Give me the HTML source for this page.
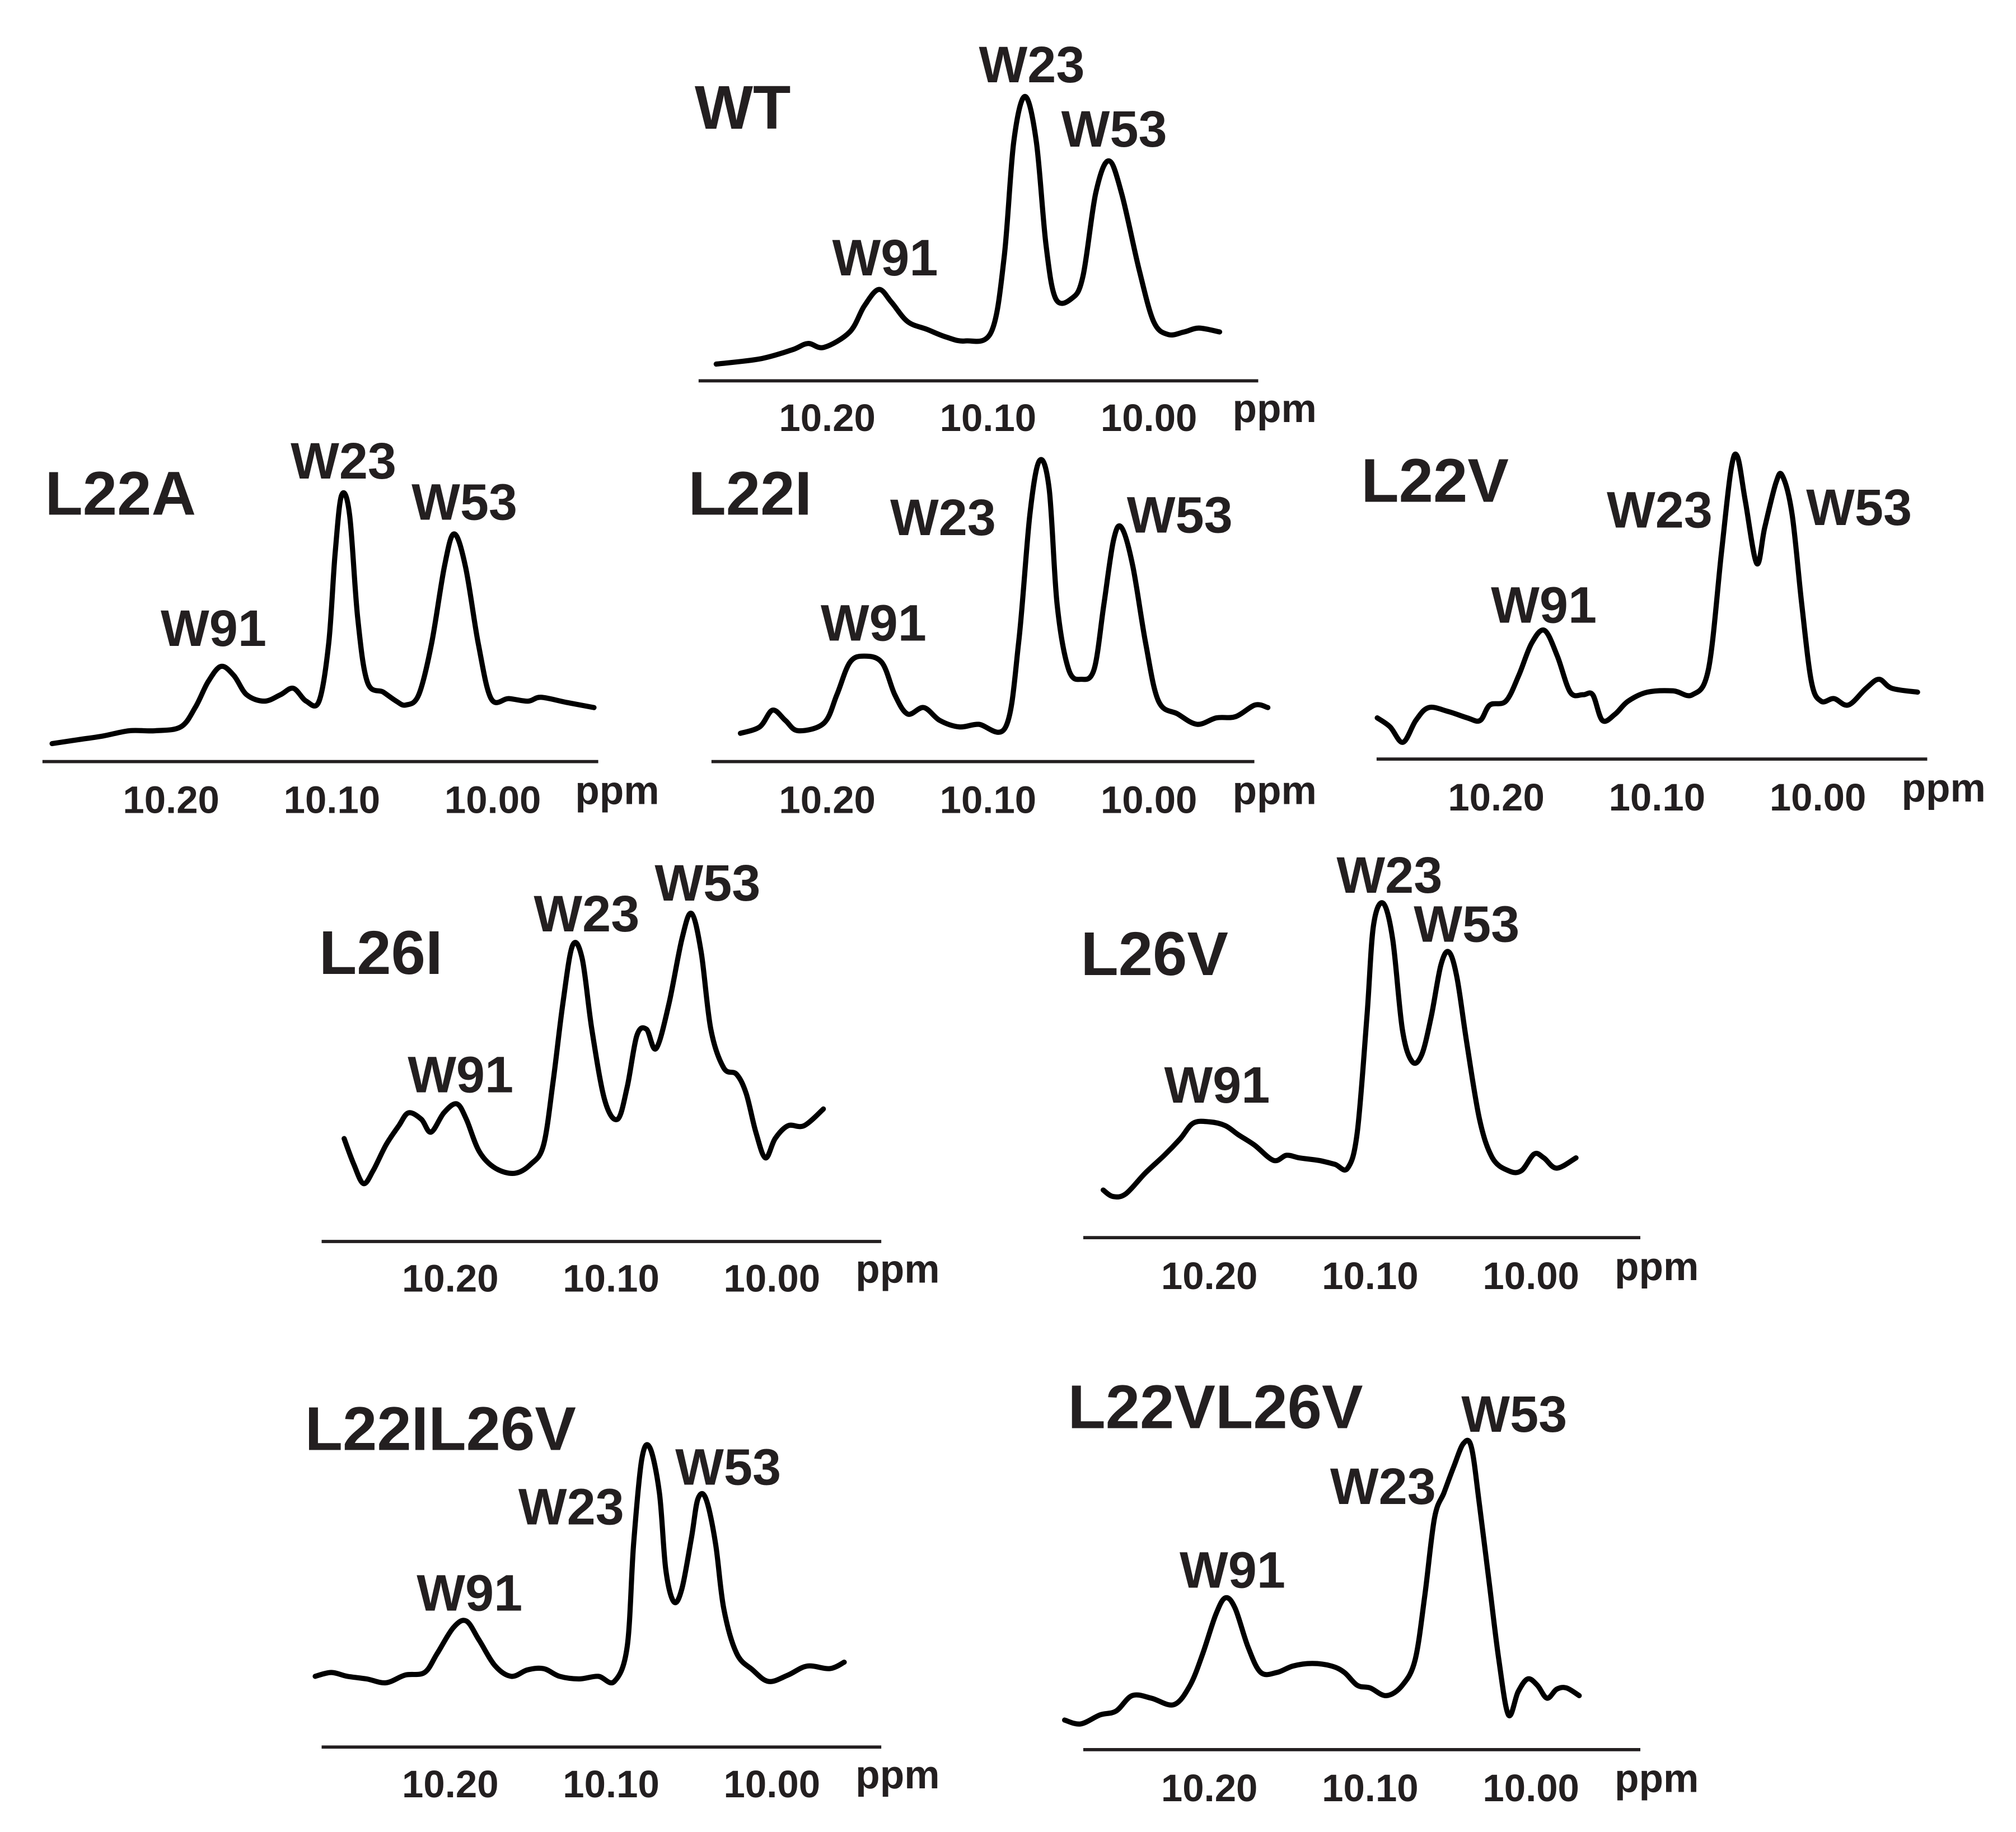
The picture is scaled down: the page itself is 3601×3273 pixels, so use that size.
<!DOCTYPE html>
<html><head><meta charset="utf-8">
<style>
html,body{margin:0;padding:0;background:#fff;}
svg{display:block;}
text{font-family:"Liberation Sans",Arial,sans-serif;font-weight:bold;fill:#231f20;}
</style></head>
<body>
<svg id="fig" width="3601" height="3273" viewBox="0 0 1567 1424" preserveAspectRatio="none" xmlns="http://www.w3.org/2000/svg"></svg>
<script>
// ---- data: ppm positions and intensities for each spectrum ----
const wtPpm=[10.269,10.242,10.222,10.212,10.202,10.186,10.177,10.168,10.160,10.150,10.138,10.126,10.114,10.098,10.090,10.084,10.077,10.070,10.064,10.058,10.048,10.041,10.033,10.025,10.017,10.006,9.997,9.988,9.978,9.969,9.956];
const wtInt=[13,17,24,29,26,38,58,71,61,46,40,34,31,38,96,186,221,186,106,64,64,81,146,171,146,86,46,36,38,41,38];
const l22aPpm=[10.274,10.258,10.242,10.226,10.210,10.194,10.185,10.177,10.169,10.161,10.153,10.142,10.132,10.124,10.116,10.108,10.102,10.098,10.094,10.089,10.084,10.078,10.068,10.060,10.054,10.046,10.038,10.030,10.024,10.017,10.009,10.001,9.990,9.978,9.970,9.954,9.937];
const l22aInt=[14,17,20,24,24,27,42,62,74,67,52,47,52,57,47,47,92,162,207,192,112,62,54,47,44,52,92,152,177,152,92,49,49,47,50,46,42];
const l22iPpm=[10.254,10.242,10.234,10.226,10.218,10.202,10.194,10.186,10.177,10.166,10.158,10.150,10.140,10.130,10.118,10.106,10.089,10.081,10.074,10.068,10.062,10.057,10.050,10.042,10.034,10.028,10.022,10.017,10.010,10.002,9.994,9.982,9.970,9.958,9.946,9.934,9.926];
const l22iInt=[22,27,40,32,24,30,52,77,82,77,52,37,42,32,27,29,27,92,192,234,212,122,72,64,72,122,172,182,152,92,47,37,29,34,35,44,42];
const l22vPpm=[10.274,10.266,10.258,10.250,10.242,10.230,10.218,10.210,10.204,10.194,10.186,10.178,10.170,10.162,10.154,10.146,10.140,10.134,10.126,10.118,10.106,10.090,10.078,10.068,10.060,10.054,10.050,10.045,10.038,10.033,10.026,10.022,10.016,10.010,10.004,9.998,9.990,9.981,9.970,9.962,9.954,9.938];
const l22vInt=[32,25,13,30,40,37,32,30,42,45,65,90,100,80,52,50,50,30,35,45,52,53,50,70,160,225,235,200,152,180,215,220,190,120,60,45,47,42,55,62,55,52];
const l26iPpm=[10.266,10.260,10.254,10.248,10.240,10.232,10.226,10.218,10.212,10.204,10.196,10.190,10.182,10.172,10.160,10.150,10.142,10.136,10.130,10.124,10.118,10.112,10.104,10.096,10.090,10.084,10.078,10.072,10.064,10.056,10.050,10.044,10.038,10.030,10.022,10.016,10.010,10.004,9.998,9.990,9.980,9.968];
const l26iInt=[80,60,45,55,75,90,100,95,85,100,107,95,70,57,53,60,75,125,185,230,220,165,110,95,120,160,165,150,185,235,255,225,165,135,130,115,85,65,80,90,90,103];
const l26vPpm=[10.266,10.260,10.252,10.240,10.228,10.218,10.210,10.200,10.190,10.182,10.172,10.160,10.152,10.144,10.132,10.122,10.114,10.108,10.102,10.098,10.092,10.086,10.080,10.074,10.068,10.062,10.056,10.051,10.046,10.040,10.032,10.024,10.014,10.006,9.998,9.992,9.984,9.972];
const l26vInt=[37,32,34,50,64,77,89,90,87,80,72,60,64,62,60,57,54,82,172,242,260,232,162,137,142,172,212,222,202,152,92,62,52,52,65,62,54,62];
const l22il26vPpm=[10.284,10.274,10.264,10.252,10.240,10.228,10.216,10.208,10.198,10.190,10.182,10.172,10.162,10.152,10.142,10.132,10.120,10.108,10.098,10.090,10.086,10.081,10.076,10.070,10.066,10.061,10.056,10.050,10.046,10.041,10.035,10.030,10.022,10.012,10.002,9.990,9.978,9.964,9.955];
const l22il26vInt=[55,58,55,53,50,56,58,73,93,98,83,63,55,60,61,55,53,55,51,78,158,223,233,198,138,113,123,163,193,193,158,108,73,60,51,56,63,61,66];
const l22vl26vPpm=[10.290,10.280,10.268,10.258,10.248,10.236,10.222,10.212,10.204,10.196,10.190,10.184,10.176,10.168,10.158,10.148,10.136,10.124,10.116,10.108,10.100,10.090,10.080,10.072,10.066,10.060,10.054,10.048,10.042,10.037,10.032,10.026,10.020,10.014,10.008,10.002,9.996,9.990,9.984,9.978,9.970];
const l22vl26vInt=[23,20,27,30,42,40,35,50,75,105,118,110,80,60,60,65,67,65,60,50,48,42,50,70,120,180,200,220,238,235,190,130,70,27,45,55,50,40,47,48,42];
const tickValues=[10.20,10.10,10.00];
const tickLabels=["10.20","10.10","10.00"];

const NS="http://www.w3.org/2000/svg";
const svg=document.getElementById('fig');
function mk(tag,attrs,parent){const e=document.createElementNS(NS,tag);for(const k in attrs)e.setAttribute(k,attrs[k]);(parent||svg).appendChild(e);return e;}

const panels=[
 {id:'wt',title:'WT',tx:540,ty:100,x20:643,ay:296,x0:543,x1:978,ppmX:958,ppmY:328,lbY:333,ppm:wtPpm,int:wtInt,
  peaks:[['W23',802,62],['W53',866,112],['W91',688,212]]},
 {id:'l22a',title:'L22A',tx:35,ty:400,x20:133,ay:592,x0:33,x1:465,ppmX:447,ppmY:625,lbY:630,ppm:l22aPpm,int:l22aInt,
  peaks:[['W23',267,370],['W53',361,402],['W91',166,500]]},
 {id:'l22i',title:'L22I',tx:535,ty:400,x20:643,ay:592,x0:553,x1:975,ppmX:958,ppmY:625,lbY:630,ppm:l22iPpm,int:l22iInt,
  peaks:[['W23',733,414],['W53',917,412],['W91',679,496]]},
 {id:'l22v',title:'L22V',tx:1058,ty:390,x20:1163,ay:590,x0:1070,x1:1498,ppmX:1478,ppmY:623,lbY:628,ppm:l22vPpm,int:l22vInt,
  peaks:[['W23',1290,408],['W53',1445,406],['W91',1200,482]]},
 {id:'l26i',title:'L26I',tx:248,ty:757,x20:350,ay:965,x0:250,x1:685,ppmX:665,ppmY:997,lbY:1002,ppm:l26iPpm,int:l26iInt,
  peaks:[['W23',456,722],['W53',550,698],['W91',358,847]]},
 {id:'l26v',title:'L26V',tx:840,ty:758,x20:940,ay:962,x0:842,x1:1275,ppmX:1255,ppmY:995,lbY:1000,ppm:l26vPpm,int:l26vInt,
  peaks:[['W23',1080,692],['W53',1140,730],['W91',946,855]]},
 {id:'l22il26v',title:'L22IL26V',tx:237,ty:1127,x20:350,ay:1358,x0:250,x1:685,ppmX:665,ppmY:1390,lbY:1395,ppm:l22il26vPpm,int:l22il26vInt,
  peaks:[['W23',444,1183],['W53',566,1152],['W91',365,1250]]},
 {id:'l22vl26v',title:'L22VL26V',tx:830,ty:1110,x20:940,ay:1360,x0:842,x1:1275,ppmX:1255,ppmY:1393,lbY:1398,ppm:l22vl26vPpm,int:l22vl26vInt,
  peaks:[['W23',1075,1167],['W53',1177,1111],['W91',958,1232]]}
];

function smoothPath(pts){
 let d='M'+pts[0][0].toFixed(1)+','+pts[0][1].toFixed(1);
 for(let i=0;i<pts.length-1;i++){
  const p0=pts[Math.max(0,i-1)],p1=pts[i],p2=pts[i+1],p3=pts[Math.min(pts.length-1,i+2)];
  const c1=[p1[0]+(p2[0]-p0[0])/6,p1[1]+(p2[1]-p0[1])/6];
  const c2=[p2[0]-(p3[0]-p1[0])/6,p2[1]-(p3[1]-p1[1])/6];
  d+=' C'+c1[0].toFixed(1)+','+c1[1].toFixed(1)+' '+c2[0].toFixed(1)+','+c2[1].toFixed(1)+' '+p2[0].toFixed(1)+','+p2[1].toFixed(1);
 }
 return d;
}

panels.forEach(p=>{
 const xScale=v=>p.x20+(10.20-v)*1250;
 const yScale=v=>p.ay-v;
 const g=mk('g',{});
 
 
 const t=mk('text',{x:p.tx,y:p.ty,'font-size':48},g);t.textContent=p.title;
 
 
 const ax=mk('line',{x1:p.x0,x2:p.x1,y1:p.ay,y2:p.ay,stroke:'#231f20','stroke-width':2.5},g);
 
 
 tickValues.forEach((tv,i)=>{
  const tl=mk('text',{x:xScale(tv),y:p.lbY+2,'font-size':30,'text-anchor':'middle'},g);
  tl.textContent=tickLabels[i];
  
  
 });
 const pu=mk('text',{x:p.ppmX,y:p.ppmY,'font-size':31},g);pu.textContent='ppm';
 
 
 const pts=p.ppm.map((v,i)=>[xScale(v),yScale(p.int[i])]);
 const path=mk('path',{d:smoothPath(pts),fill:'none',stroke:'#000','stroke-width':4,'stroke-linejoin':'round','stroke-linecap':'round'},g);
 
 
 p.peaks.forEach(pk=>{
  const pl=mk('text',{x:pk[1],y:pk[2]+2,'font-size':40,'text-anchor':'middle'},g);
  pl.textContent=pk[0];
  
  
 });
});
</script>
</body></html>
